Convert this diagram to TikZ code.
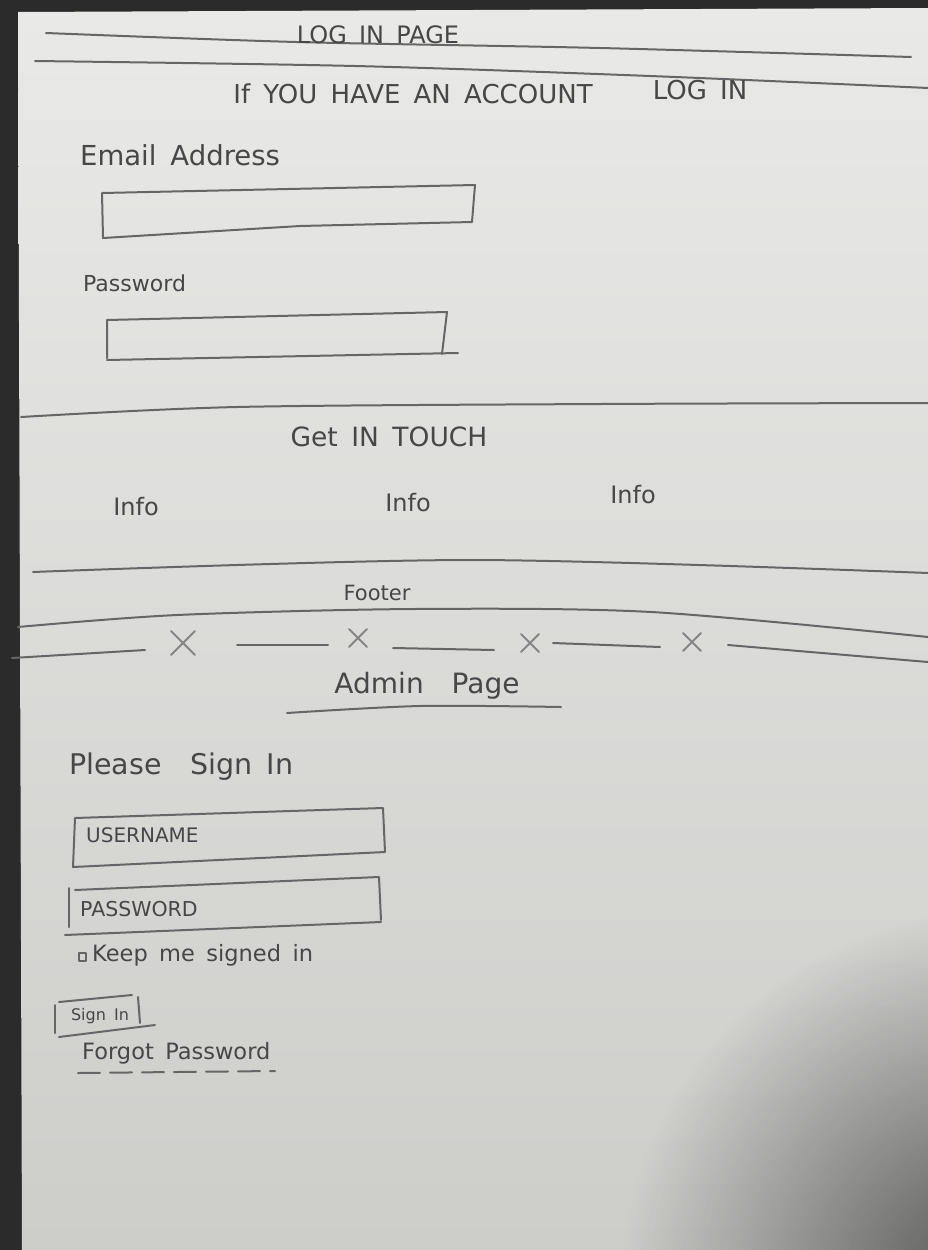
\documentclass[tikz,border=0pt]{standalone}
\usepackage{fontspec}
\setmainfont[WordSpace=1.6]{DejaVu Sans}
\usetikzlibrary{positioning, fadings}

\tikzfading[name=shadowFade, inner color=transparent!0, outer color=transparent!100]

\begin{document}
\begin{tikzpicture}[x=1pt, y=-1pt,
    pencil/.style={draw=lineColour, line width=2pt, line cap=round, line join=round},
    hand/.style={text=textColour, inner sep=0pt, font=\fontsize{22.5}{26}\selectfont},
    handbig/.style={hand, font=\fontsize{28}{32}\selectfont},
    handsmall/.style={hand, font=\fontsize{20}{24}\selectfont},
    crossmark/.style={pencil, draw=lineColour!80}]

    \definecolor{bgColour}{HTML}{2B2B2B}
    \definecolor{paperTop}{HTML}{E9E9E7}
    \definecolor{paperBottom}{HTML}{CDCDCA}
    \definecolor{lineColour}{HTML}{666666}
    \definecolor{textColour}{HTML}{474747}

    % Background and paper
    \fill[bgColour] (0,0) rectangle (928,1250);
    \shade[top color=paperTop, bottom color=paperBottom] (18,12) -- (928,8) -- (928,1250) -- (22,1250) -- cycle;
    \begin{scope}
        \clip (18,12) -- (928,8) -- (928,1250) -- (22,1250) -- cycle;
        \fill[black, opacity=0.6, path fading=shadowFade] (1000,1290) circle (380pt);
    \end{scope}
    \useasboundingbox (0,0) rectangle (928,1250);

    % Header lines
    \draw[pencil] plot[smooth] coordinates {(46,33) (296,42) (600,48) (911,57)};
    \draw[pencil] plot[smooth] coordinates {(35,61) (355,66) (650,76) (928,88)};
    \node[hand, font=\fontsize{24}{28}\selectfont] (title) at (378,35) {LOG IN PAGE};

    % Log in form
    \node[hand, font=\fontsize{26}{30}\selectfont] (intro) at (413,94) {If YOU HAVE AN ACCOUNT};
    \node[hand, font=\fontsize{26}{30}\selectfont] (login) at (700,90) {LOG IN};
    \node[hand, font=\fontsize{27.5}{32}\selectfont, anchor=west] (emailLabel) at (80,155) {Email Address};
    \draw[pencil] (102,193) -- (475,185) -- (472,222) -- (300,226) -- (103,238) -- cycle;
    \node[hand, font=\fontsize{22}{26}\selectfont, anchor=west] (passLabel) at (83,283) {Password};
    \draw[pencil] (107,358) -- (107,320) -- (447,312) -- (442,354);
    \draw[pencil] (107,360) -- (458,353);

    % Get in touch section
    \draw[pencil] plot[smooth] coordinates {(21,417) (237,407) (600,404) (928,403)};
    \node[hand, font=\fontsize{26.5}{30}\selectfont] (touch) at (389,437) {Get IN TOUCH};
    \node[hand, font=\fontsize{24}{28}\selectfont] (infoA) at (136,507) {Info};
    \node[hand, font=\fontsize{24}{28}\selectfont] (infoB) at (408,503) {Info};
    \node[hand, font=\fontsize{24}{28}\selectfont] (infoC) at (633,495) {Info};

    % Footer
    \draw[pencil] plot[smooth] coordinates {(33,572) (473,560) (928,573)};
    \node[hand, font=\fontsize{21}{25}\selectfont] (footer) at (377,593) {Footer};
    \draw[pencil] plot[smooth] coordinates {(18,627) (177,615) (414,609) (651,612) (928,637)};

    % Divider with crosses
    \draw[pencil] (12,658) -- (145,650);
    \draw[pencil] (237,645) -- (328,645);
    \draw[pencil] (393,648) -- (494,650);
    \draw[pencil] (553,643) -- (660,647);
    \draw[pencil] (728,645) -- (928,662);
    \foreach \cx/\cy/\s in {183/643/12, 358/638/9, 530/643/9, 692/642/9}
        \draw[crossmark] (\cx-\s,\cy-\s) -- (\cx+\s,\cy+\s) (\cx+\s,\cy-\s) -- (\cx-\s,\cy+\s);

    % Admin page
    \node[handbig] (admin) at (427,686) {Admin\quad Page};
    \draw[pencil] plot[smooth] coordinates {(287,713) (420,706) (561,707)};
    \node[hand, font=\fontsize{28.5}{32}\selectfont, anchor=west] (signInTitle) at (69,767) {Please\quad Sign In};

    % Username and password fields
    \draw[pencil] (73,867) -- (75,818) -- (383,808) -- (385,852) -- cycle;
    \node[handsmall, anchor=west] (userField) at (86,835) {USERNAME};
    \draw[pencil] (69,888) -- (69,927);
    \draw[pencil] (75,890) -- (379,877) -- (381,920);
    \draw[pencil] (65,935) -- (381,922);
    \node[hand, font=\fontsize{20.5}{24}\selectfont, anchor=west] (passField) at (80,909) {PASSWORD};

    % Keep me signed in
    \draw[pencil, line width=1.2pt] (79,953) rectangle (86,961);
    \node[hand, anchor=west] (keepSigned) at (92,955) {Keep me signed in};

    % Sign in button
    \draw[pencil] (55,1005) -- (55,1033);
    \draw[pencil] (59,1002) -- (132,995);
    \draw[pencil] (138,997) -- (140,1023);
    \draw[pencil] (59,1037) -- (155,1025);
    \node[hand, font=\fontsize{16}{19}\selectfont] (signInBtn) at (100,1016) {Sign In};

    % Forgot password
    \node[hand, anchor=west] (forgot) at (82,1053) {Forgot Password};
    \draw[pencil, dash pattern=on 22pt off 10pt] (78,1073) -- (275,1071);

\end{tikzpicture}
\end{document}
